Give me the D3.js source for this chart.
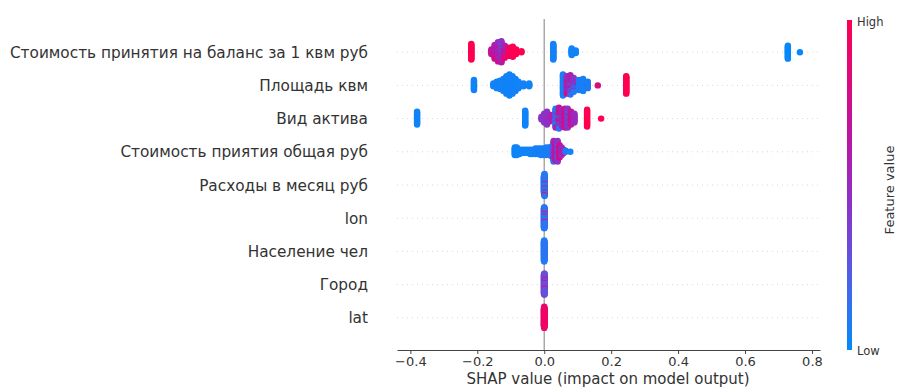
<!DOCTYPE html>
<html><head><meta charset="utf-8">
<script src="https://cdn.jsdelivr.net/npm/d3@7"></script>
<style>body{margin:0;background:#fff}svg{display:block}</style>
</head><body>
<svg id="chart" width="898" height="389"></svg>
<script>
// Features, top to bottom
const features = [
  "Стоимость принятия на баланс за 1 квм руб",
  "Площадь квм",
  "Вид актива",
  "Стоимость приятия общая руб",
  "Расходы в месяц руб",
  "lon",
  "Население чел",
  "Город",
  "lat"
];
// Each entry: [SHAP value, number of samples, feature value (0 = low, 1 = high)]
const shapBalance = [
  [-0.218, 18, 1.0],
  [-0.158, 6, 0.68],
  [-0.148, 12, 0.58], [-0.148, 4, 0.8],
  [-0.138, 14, 0.5], [-0.138, 8, 0.72],
  [-0.128, 12, 0.45], [-0.128, 4, 0.1], [-0.128, 8, 0.65],
  [-0.118, 10, 0.6], [-0.118, 4, 0.9],
  [-0.105, 10, 0.95],
  [-0.094, 12, 0.98],
  [-0.084, 6, 1.0],
  [-0.068, 2, 1.0],
  [0.027, 18, 0.06],
  [0.082, 8, 0.04],
  [0.094, 4, 0.04],
  [0.728, 15, 0.02],
  [0.764, 1, 0.02]
];
const shapArea = [
  [-0.21, 12, 0.04],
  [-0.152, 4, 0.05],
  [-0.142, 8, 0.06],
  [-0.132, 10, 0.04],
  [-0.122, 14, 0.06],
  [-0.113, 20, 0.05],
  [-0.104, 24, 0.04],
  [-0.095, 20, 0.06],
  [-0.086, 14, 0.05],
  [-0.077, 8, 0.04],
  [-0.062, 4, 0.06],
  [-0.045, 4, 0.04],
  [0.056, 24, 0.08],
  [0.068, 14, 0.5], [0.068, 6, 0.78],
  [0.078, 16, 0.58], [0.078, 6, 0.15],
  [0.088, 12, 0.45], [0.088, 4, 0.08],
  [0.104, 12, 0.08],
  [0.116, 14, 0.06],
  [0.13, 8, 0.08],
  [0.16, 1, 0.8],
  [0.245, 20, 1.0]
];
const shapAssetType = [
  [-0.38, 14, 0.04],
  [-0.057, 16, 0.04],
  [-0.008, 4, 0.45],
  [0.0, 10, 0.42],
  [0.008, 14, 0.45],
  [0.016, 8, 0.5],
  [0.024, 6, 0.6],
  [0.034, 14, 0.08], [0.034, 6, 0.55],
  [0.044, 16, 0.7], [0.044, 6, 0.12],
  [0.054, 18, 0.5],
  [0.062, 20, 0.75],
  [0.07, 16, 0.45], [0.07, 4, 0.08],
  [0.08, 14, 0.68],
  [0.09, 10, 0.5],
  [0.128, 18, 1.0],
  [0.17, 1, 1.0]
];
const shapTotalCost = [
  [-0.088, 8, 0.04],
  [-0.082, 8, 0.04],
  [-0.074, 5, 0.04],
  [-0.066, 4, 0.04],
  [-0.058, 4, 0.06],
  [-0.05, 4, 0.04],
  [-0.042, 5, 0.04],
  [-0.034, 5, 0.06],
  [-0.026, 6, 0.04],
  [-0.018, 6, 0.08],
  [-0.01, 7, 0.04],
  [-0.002, 7, 0.08],
  [0.006, 8, 0.06],
  [0.014, 8, 0.08],
  [0.022, 10, 0.12],
  [0.028, 14, 0.5], [0.028, 6, 0.08],
  [0.034, 18, 0.65],
  [0.04, 16, 0.45], [0.04, 4, 0.08],
  [0.046, 12, 0.78],
  [0.052, 8, 0.5],
  [0.058, 4, 0.6],
  [0.064, 2, 0.08],
  [0.078, 1, 0.04]
];
const shapExpenses = [
  [-0.001, 20, 0.06], [0.0, 24, 0.08], [0.001, 22, 0.1], [0.001, 5, 0.85]
];
const shapLon = [
  [-0.001, 22, 0.08], [0.0, 24, 0.06], [0.001, 18, 0.12], [0.001, 4, 0.85]
];
const shapPopulation = [
  [-0.001, 22, 0.08], [0.0, 24, 0.04], [0.001, 20, 0.12]
];
const shapCity = [
  [-0.001, 20, 0.32], [0.0, 16, 0.38], [0.0, 6, 0.85], [0.001, 18, 0.28], [0.001, 4, 0.8]
];
const shapLat = [
  [-0.001, 20, 0.82], [0.0, 24, 0.88], [0.001, 20, 0.92]
];
const featureData = [shapBalance, shapArea, shapAssetType, shapTotalCost,
  shapExpenses, shapLon, shapPopulation, shapCity, shapLat];

const xTicks = [-0.4, -0.2, 0.0, 0.2, 0.4, 0.6, 0.8];
const xTitle = "SHAP value (impact on model output)";
const cbLabels = ["High", "Low"];
const cbTitle = "Feature value";
// colormap anchor colours (low -> high)
const cmapStops = ["#008bfb", "#3d6cef", "#7444d8", "#9a28bd", "#bf13a0", "#e0087a", "#ff0051"];

const svg = d3.select("#chart");
const font = "DejaVu Sans, sans-serif";
const n = features.length;

const x = d3.scaleLinear().domain([-0.44, 0.824]).range([397, 820]);
const y = d3.scaleLinear().domain([-1, n]).range([351, 19]); // position n-1-i
const color = d3.scaleSequential(d3.interpolateRgbBasis(cmapStops)).domain([0, 1]);

// horizontal dashed row lines
features.forEach((f, i) => {
  const yy = y(n - 1 - i);
  svg.append("line").attr("x1", 397).attr("x2", 820).attr("y1", yy).attr("y2", yy)
    .attr("stroke", "#d8d8d8").attr("stroke-width", 1).attr("stroke-dasharray", "1,4");
});
// zero line
svg.append("line").attr("x1", x(0)).attr("x2", x(0)).attr("y1", y(n)).attr("y2", y(-1))
  .attr("stroke", "#aaa").attr("stroke-width", 1.5);

// beeswarm layout (shap style)
const nbins = 100;
featureData.forEach((entries, i) => {
  const pos = n - 1 - i;
  const vals = entries.map(e => e[0]);
  const mn = d3.min(vals), mx = d3.max(vals);
  const bins = new Map();
  entries.forEach(e => {
    const q = Math.round(nbins * (e[0] - mn) / (mx - mn + 1e-8));
    if (!bins.has(q)) bins.set(q, []);
    const pts = d3.range(e[1]).map(() => ({v: e[0], c: e[2]}));
    bins.get(q).push(pts);
  });
  const points = [];
  Array.from(bins.keys()).sort((a, b) => a - b).forEach(q => {
    const lists = bins.get(q);
    const merged = [];
    const total = d3.sum(lists, l => l.length);
    const idx = lists.map(() => 0);
    for (let k = 0; k < total; k++) {
      let best = -1, bestScore = Infinity;
      lists.forEach((l, j) => {
        if (idx[j] < l.length) {
          const score = (idx[j] + 0.5) / l.length;
          if (score < bestScore) { bestScore = score; best = j; }
        }
      });
      merged.push(lists[best][idx[best]++]);
    }
    merged.forEach((p, layer) => {
      p.ys = Math.ceil(layer / 2) * ((layer % 2) * 2 - 1);
      points.push(p);
    });
  });
  const maxYs = d3.max(points, p => p.ys) + 1;
  points.forEach(p => { p.ys *= 0.9 * (0.4 / maxYs); });
  svg.append("g").selectAll("circle").data(points).join("circle")
    .attr("cx", d => x(d.v))
    .attr("cy", d => y(pos + d.ys))
    .attr("r", 3.2)
    .attr("fill", d => color(d.c));
});

// feature labels
svg.append("g").selectAll("text").data(features).join("text")
  .attr("x", 368).attr("y", (d, i) => y(n - 1 - i) + 5.5)
  .attr("text-anchor", "end").attr("font-family", font).attr("font-size", 15.3)
  .attr("fill", "#333").text(d => d);

// x axis
const axis = svg.append("g").attr("transform", "translate(0,350)")
  .call(d3.axisBottom(x).tickValues(xTicks).tickSize(4).tickSizeOuter(0)
    .tickFormat(d => d3.format(".1f")(d).replace("-", "\u2212")));
axis.select(".domain").attr("stroke", "#444");
axis.selectAll(".tick line").attr("stroke", "#444");
axis.selectAll(".tick text").attr("font-family", font).attr("font-size", 13)
  .attr("fill", "#333").attr("dy", "0.9em").attr("y", 4);
svg.append("text").attr("x", 608).attr("y", 384).attr("text-anchor", "middle")
  .attr("font-family", font).attr("font-size", 15).attr("fill", "#333").text(xTitle);

// colorbar
const defs = svg.append("defs");
const grad = defs.append("linearGradient").attr("id", "cb").attr("x1", 0).attr("x2", 0).attr("y1", 1).attr("y2", 0);
d3.range(0, 1.0001, 0.05).forEach(t => {
  grad.append("stop").attr("offset", t).attr("stop-color", color(t));
});
svg.append("rect").attr("x", 847).attr("y", 20).attr("width", 5).attr("height", 330).attr("fill", "url(#cb)");
svg.append("text").attr("x", 857).attr("y", 26).attr("font-family", font).attr("font-size", 11.5)
  .attr("fill", "#333").text(cbLabels[0]);
svg.append("text").attr("x", 857).attr("y", 355).attr("font-family", font).attr("font-size", 11.5)
  .attr("fill", "#333").text(cbLabels[1]);
svg.append("text").attr("transform", "translate(894,190) rotate(-90)").attr("text-anchor", "middle")
  .attr("font-family", font).attr("font-size", 13).attr("fill", "#333").text(cbTitle);
</script>
</body></html>
